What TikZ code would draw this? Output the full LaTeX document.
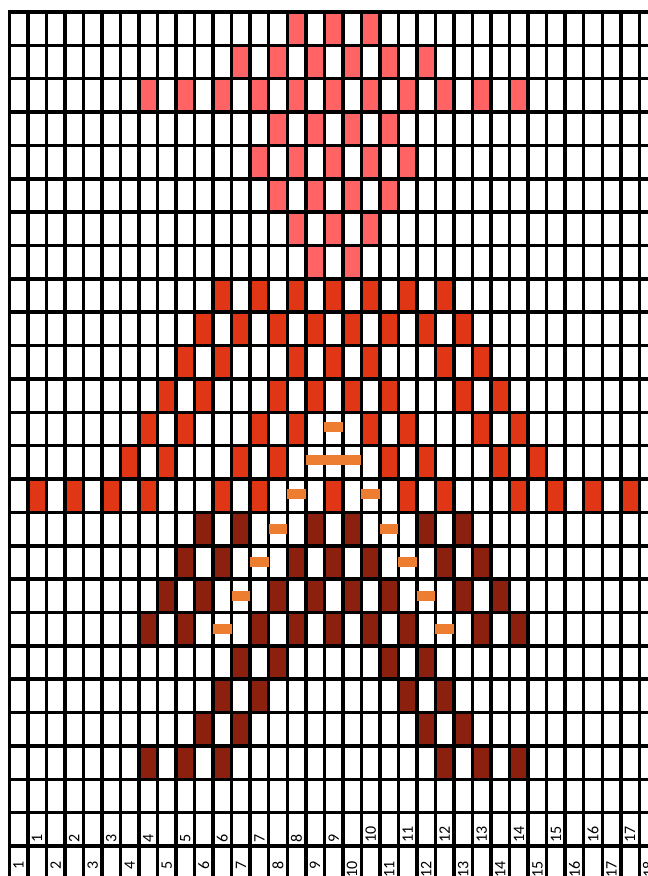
\documentclass[tikz,border=0pt]{standalone}
\usepackage{fontspec}
\setmainfont{Carlito}
\definecolor{weftpink}{HTML}{FF6363}
\definecolor{weftred}{HTML}{E03616}
\definecolor{weftdark}{HTML}{8B200E}
\definecolor{floatbar}{HTML}{ED7D31}
\def\xo{9.3}  % left edge of the chart
\def\yo{12}   % top edge of the chart
\def\cw{18.53}
\def\rh{33.36}
\begin{document}
\begin{tikzpicture}[
    x=1pt, y=-1pt,
    gridline/.style={line width=3.5pt, line cap=rect, black},
    pinkcell/.style={fill=weftpink},
    redcell/.style={fill=weftred},
    darkcell/.style={fill=weftdark},
    floatcell/.style={fill=floatbar},
    numlabel/.style={rotate=90, inner sep=0pt, font=\fontsize{16}{18}\selectfont}
]
\useasboundingbox (0,0) rectangle (648,876);
\clip (0,0) rectangle (648,876);
% coloured cells, row by row
\foreach \r/\cs in {1/{16,18,20}, 2/{13,15,17,19,21,23}, 3/{8,10,12,14,16,18,20,22,24,26,28},
    4/{15,17,19,21}, 5/{14,16,18,20,22}, 6/{15,17,19,21}, 7/{16,18,20}, 8/{17,19}}
  \foreach \c in \cs
    \fill[pinkcell] ({\xo+(\c-1)*\cw},{\yo+(\r-1)*\rh}) rectangle +(\cw,\rh);
\foreach \r/\cs in {9/{12,14,16,18,20,22,24}, 10/{11,13,15,17,19,21,23,25},
    11/{10,12,16,18,20,24,26}, 12/{9,11,15,17,19,21,25,27}, 13/{8,10,14,16,20,22,26,28},
    14/{7,9,13,15,21,23,27,29}, 15/{2,4,6,8,12,14,18,22,24,28,30,32,34}}
  \foreach \c in \cs
    \fill[redcell] ({\xo+(\c-1)*\cw},{\yo+(\r-1)*\rh}) rectangle +(\cw,\rh);
\foreach \r/\cs in {16/{11,13,17,19,23,25}, 17/{10,12,16,18,20,24,26},
    18/{9,11,15,17,19,21,25,27}, 19/{8,10,14,16,18,20,22,26,28}, 20/{13,15,21,23},
    21/{12,14,22,24}, 22/{11,13,23,25}, 23/{8,10,12,24,26,28}}
  \foreach \c in \cs
    \fill[darkcell] ({\xo+(\c-1)*\cw},{\yo+(\r-1)*\rh}) rectangle +(\cw,\rh);
% grid
\foreach \k in {0,...,34}
  \draw[gridline] ({\xo+\k*\cw},\yo) -- ({\xo+\k*\cw},900);
\foreach \k in {0,...,26}
  \draw[gridline] (\xo,{\yo+\k*\rh}) -- (670,{\yo+\k*\rh});
% floats over the grid
\foreach \r/\a/\b/\dy in {13/18/18/-2, 14/17/19/-2, 15/16/16/-2, 15/20/20/-2,
    16/15/15/0, 16/21/21/0, 17/14/14/0, 17/22/22/0, 18/13/13/0, 18/23/23/0, 19/12/12/0, 19/24/24/0}
  \fill[floatcell] ({\xo+(\a-1)*\cw},{\yo+(\r-0.5)*\rh+\dy-5}) rectangle ({\xo+\b*\cw},{\yo+(\r-0.5)*\rh+\dy+5});
% numbering
\foreach \n in {1,...,17}
  \node[numlabel, anchor=west] (upper-\n) at ({\xo+(2*\n-0.5)*\cw},{\yo+25*\rh-3}) {\n};
\foreach \n in {1,...,18}
  \node[numlabel, anchor=east] (lower-\n) at ({\xo+(2*\n-1.5)*\cw},861) {\n};
\end{tikzpicture}
\end{document}
